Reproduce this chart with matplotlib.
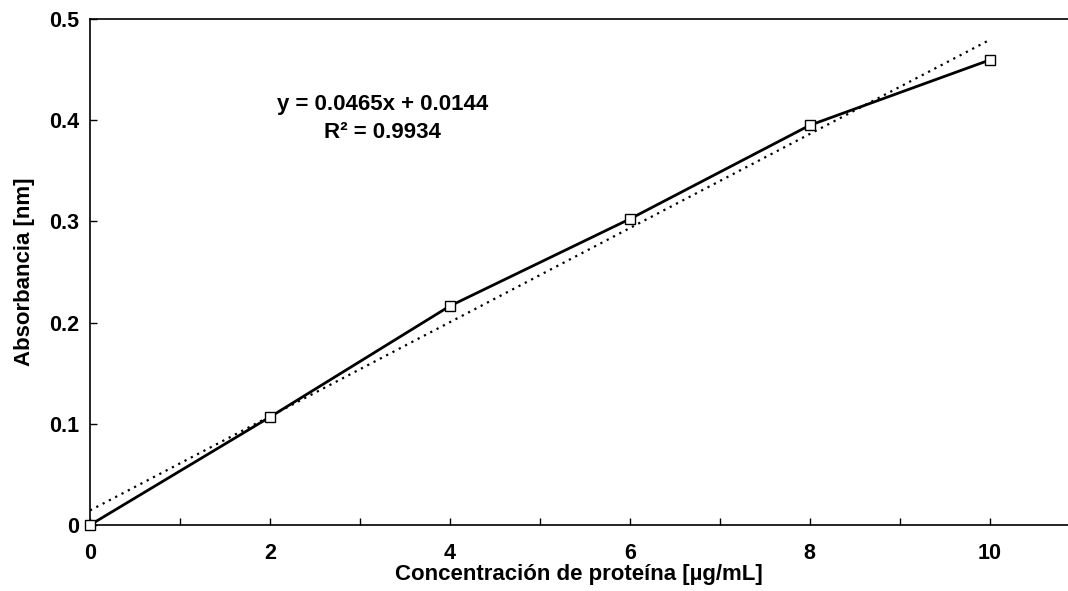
import numpy as np
import matplotlib.pyplot as plt

plt.rcParams['font.family'] = ['Liberation Sans', 'DejaVu Sans']
plt.rcParams['font.weight'] = 'bold'

# Calibration curve: protein concentration vs absorbance
conc = [0, 2, 4, 6, 8, 10]
absorb = [0.0, 0.1067, 0.2164, 0.3024, 0.395, 0.4595]

# Linear trendline reported on the chart
slope = 0.0465
intercept = 0.0144
r2 = 0.9934

fig = plt.figure(figsize=(10.68, 5.91), dpi=100)
ax = fig.add_axes([90 / 1068, 66 / 591, 978 / 1068, 506 / 591])

xfit = np.array([conc[0], conc[-1]])
ax.plot(xfit, slope * xfit + intercept, color='black', lw=1.6,
        linestyle=(0, (1, 2.2)), zorder=2)
ax.plot(conc, absorb, color='black', lw=2, marker='s', markersize=7,
        markerfacecolor='white', markeredgecolor='black', markeredgewidth=1,
        zorder=3, clip_on=False)

ax.text(3.25, 0.416, f'y = {slope}x + {intercept}', ha='center', va='center',
        fontsize=16, fontweight='bold')
ax.text(3.25, 0.388, f'R² = {r2}', ha='center', va='center',
        fontsize=16, fontweight='bold')

ax.set_xlim(0, 10.87)
ax.set_ylim(0, 0.5)
ax.set_xticks(range(0, 11))
ax.set_xticklabels([str(v) if v % 2 == 0 else '' for v in range(0, 11)])
ax.set_yticks([0, 0.1, 0.2, 0.3, 0.4, 0.5])
ax.set_yticklabels(['0', '0.1', '0.2', '0.3', '0.4', '0.5'])
ax.tick_params(direction='in', length=5, width=1, labelsize=15.5)
ax.tick_params(axis='x', pad=13)
ax.tick_params(axis='y', pad=8)

ax.spines['right'].set_visible(False)
for s in ['left', 'top', 'bottom']:
    ax.spines[s].set_linewidth(1.2)

ax.set_xlabel('Concentración de proteína [µg/mL]', fontsize=16,
              fontweight='bold', labelpad=0)
ax.set_ylabel('Absorbancia [nm]', fontsize=16, fontweight='bold', labelpad=10)

fig.savefig('out.png', dpi=100)
plt.close(fig)
